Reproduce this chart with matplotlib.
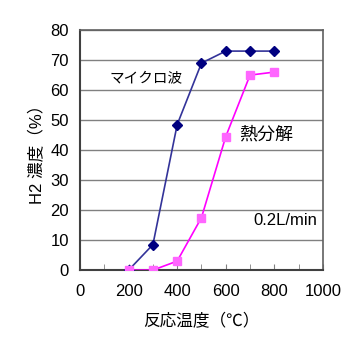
import matplotlib
matplotlib.use('Agg')
import matplotlib.pyplot as plt
from matplotlib.ticker import MultipleLocator

plt.rcParams['font.family'] = ['Liberation Sans', 'Noto Sans CJK JP', 'DejaVu Sans']

temp = [200, 300, 400, 500, 600, 700, 800]
microwave = [0, 8.5, 48.5, 69, 73, 73, 73]
thermal = [0, 0, 3, 17.5, 44.5, 65, 66]

fig = plt.figure(figsize=(3.64, 3.54), dpi=100)
ax = fig.add_axes([0.22, 0.237, 0.667, 0.678])

ax.plot(temp, microwave, color='#333399', marker='D', markersize=5,
        markerfacecolor='#000080', markeredgecolor='#000080', linewidth=1.2, zorder=3)
ax.plot(temp, thermal, color='#ff00ff', marker='s', markersize=6,
        markerfacecolor='#ff66ff', markeredgecolor='#ff66ff', linewidth=1.2, zorder=3)

ax.set_xlim(0, 1000)
ax.set_ylim(0, 80)
ax.xaxis.set_major_locator(MultipleLocator(200))
ax.yaxis.set_major_locator(MultipleLocator(10))
ax.grid(axis='y', color='#808080', linewidth=1)
ax.set_axisbelow(True)

ax.tick_params(axis='x', which='major', direction='in', length=4, labelsize=12, pad=10, color='#808080')
ax.tick_params(axis='y', length=0, labelsize=12, pad=8)
ax.xaxis.set_minor_locator(MultipleLocator(100))
ax.tick_params(axis='x', which='minor', direction='in', length=4, color='#808080')

for side in ['left', 'bottom']:
    ax.spines[side].set_color('#404040')
    ax.spines[side].set_linewidth(1.5)
for side in ['top', 'right']:
    ax.spines[side].set_color('#606060')
    ax.spines[side].set_linewidth(1.2)

ax.set_xlabel('反応温度（℃）', fontsize=12, labelpad=10)
ax.set_ylabel('H2 濃度（%）', fontsize=12, labelpad=4)

ax.text(270, 64, 'マイクロ波', fontsize=10.5, ha='center', va='center')
ax.text(765, 45, '熱分解', fontsize=13, ha='center', va='center')
ax.text(845, 16.5, '0.2L/min', fontsize=12, ha='center', va='center')

fig.savefig('out.png', dpi=100)
